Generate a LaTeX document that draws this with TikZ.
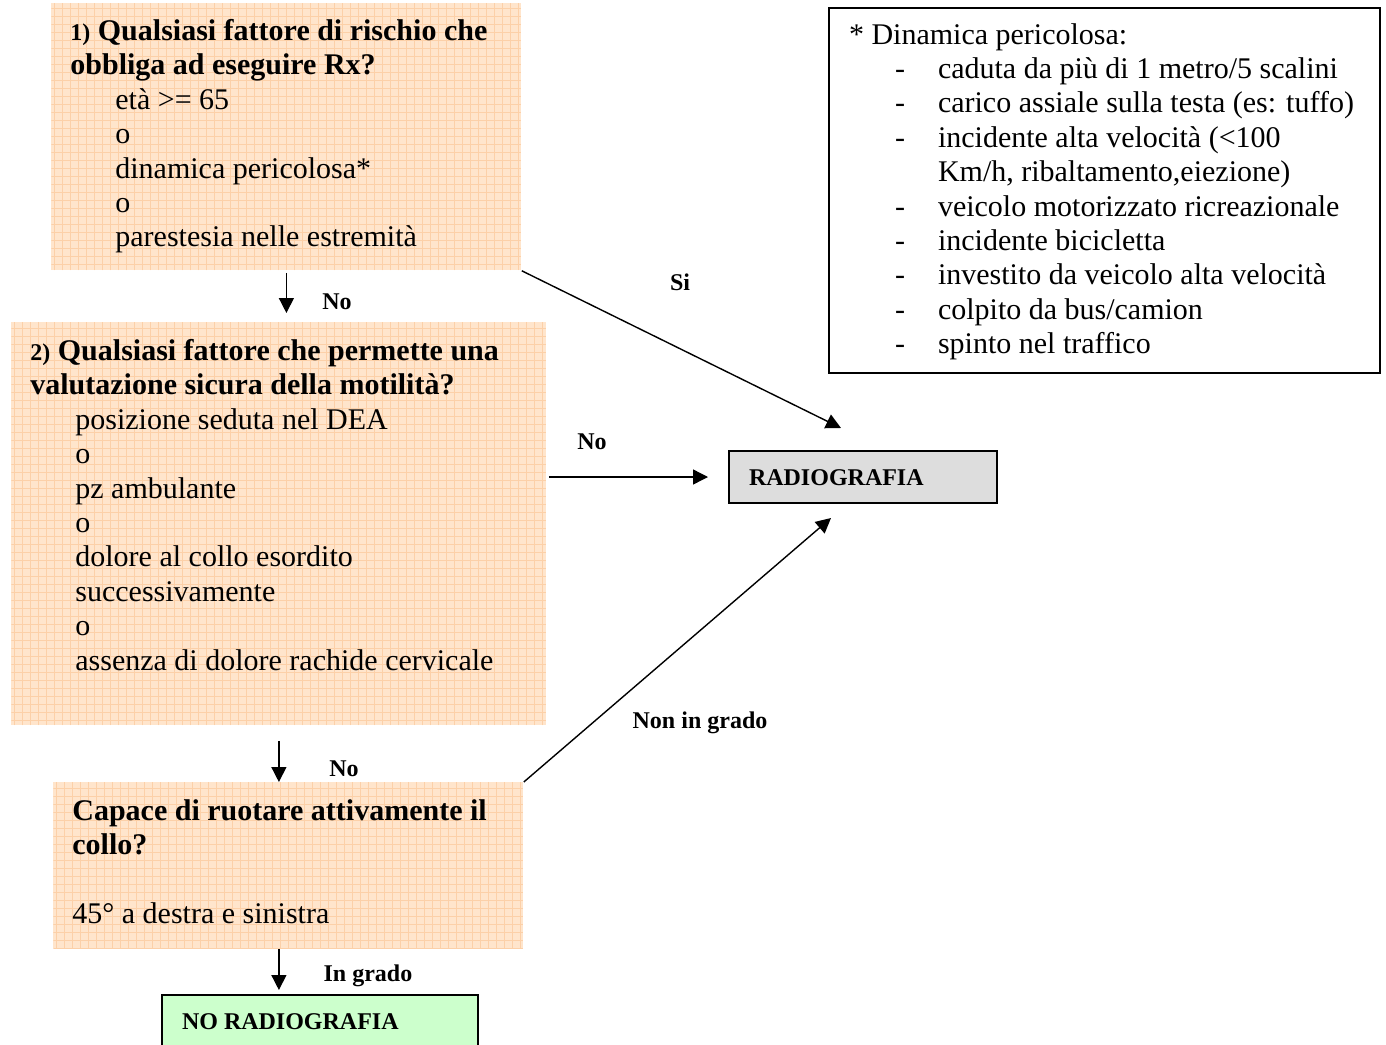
\documentclass[tikz,border=0pt]{standalone}
\usepackage{fontspec}
\setmainfont{Liberation Serif}
\usetikzlibrary{positioning,calc,arrows.meta}
\definecolor{qfill}{RGB}{255,229,204}
\definecolor{qgrid}{RGB}{252,208,168}
\definecolor{radfill}{RGB}{221,221,221}
\definecolor{nofill}{RGB}{204,255,204}
\newcommand{\txtsz}{\fontsize{15}{17.2}\selectfont}
\newcommand{\numsz}{\fontsize{12}{17.2}\selectfont}
\newcommand{\lblsz}{\fontsize{12}{14}\selectfont}
\newcommand{\indt}{\hspace*{22.5pt}}
\newcommand{\dpitem}[1]{\\\hspace*{23pt}\makebox[21.5pt][l]{-}#1}

\begin{document}
\begin{tikzpicture}[x=0.5pt,y=-0.5pt,
    >={Triangle[length=7.5pt,width=7.5pt]},
    qbox/.style={anchor=north west,fill=qfill,inner xsep=9.5pt,inner ysep=0pt,
      align=flush left,font=\txtsz,
      path picture={\draw[qgrid,line width=0.3pt] (path picture bounding box.south west)
        grid[step=4pt] (path picture bounding box.north east);}},
    outbox/.style={anchor=north west,draw,line width=1pt,inner xsep=10pt,inner ysep=0pt,
      align=flush left,font=\lblsz\bfseries,text height=17pt,text depth=9pt},
    lbl/.style={font=\lblsz\bfseries,inner sep=0pt},
    arr/.style={->,line width=0.7pt}]
    \useasboundingbox (0,0) rectangle (1386,1044);

    % question boxes
    \node[qbox,text width=216pt,text height=18.5pt,text depth=115pt] (q1) at (51,3)
      {{\bfseries\numsz 1)} \textbf{Qualsiasi fattore di rischio che}\\
       \textbf{obbliga ad eseguire Rx?}\\
       \indt età >= 65\\ \indt o\\ \indt dinamica pericolosa*\\ \indt o\\
       \indt parestesia nelle estremità};
    \node[qbox,text width=248.5pt,text height=19pt,text depth=182.5pt] (q2) at (11,322)
      {{\bfseries\numsz 2)} \textbf{Qualsiasi fattore che permette una}\\
       \textbf{valutazione sicura della motilità?}\\
       \indt posizione seduta nel DEA\\ \indt o\\ \indt pz ambulante\\ \indt o\\
       \indt dolore al collo esordito\\ \indt successivamente\\ \indt o\\
       \indt assenza di dolore rachide cervicale};
    \node[qbox,text width=216pt,text height=19pt,text depth=64pt] (q3) at (53,782)
      {\textbf{Capace di ruotare attivamente il}\\
       \textbf{collo?}\\[17.2pt]
       45° a destra e sinistra};

    % outcomes
    \node[outbox,fill=radfill,text width=114pt] (rad) at (728,450) {RADIOGRAFIA};
    \node[outbox,fill=nofill,text width=138pt,text depth=20pt] (nr) at (161,994) {NO RADIOGRAFIA};

    % legend
    \node[anchor=north west,draw,line width=1pt,inner xsep=10pt,inner ysep=0pt,align=flush left,
      font=\txtsz,text width=255.5pt,text height=18pt,text depth=164.5pt] (dyn) at (828,7)
      {* Dinamica pericolosa:
       \dpitem{caduta da più di 1 metro/5 scalini}
       \dpitem{carico assiale sulla testa (es: tuffo)}
       \dpitem{incidente alta velocità (<100}\\
       \hspace*{44.5pt}Km/h, ribaltamento,eiezione)
       \dpitem{veicolo motorizzato ricreazionale}
       \dpitem{incidente bicicletta}
       \dpitem{investito da veicolo alta velocità}
       \dpitem{colpito da bus/camion}
       \dpitem{spinto nel traffico}};

    \coordinate (si) at ($(rad.north)+(-22,-22)$);
    \coordinate (nig) at ($(rad.south)+(-32,14)$);

    \draw[arr,shorten <=1pt,shorten >=4.5pt] (q1.south) -- (q1.south |- q2.north);
    \draw[arr] (q1.south east) -- (si);
    \draw[arr,shorten <=1pt,shorten >=10pt] (q2.east |- rad.west) -- (rad.west);
    \draw[arr,shorten <=7.5pt] (q2.south) -- (q2.south |- q3.north);
    \draw[arr] (q3.north east) -- (nig);
    \draw[arr,shorten >=2pt] (q3.south -| q2.south) -- (q2.south |- nr.north);

    \node[lbl] (no1) at (337,302) {No};
    \node[lbl] (yes) at (680,282) {Si};
    \node[lbl] (no2) at (592,442) {No};
    \node[lbl] (no3) at (344,769) {No};
    \node[lbl] (notable) at (700,723) {Non in grado};
    \node[lbl] (able) at (368,976) {In grado};
\end{tikzpicture}
\end{document}
